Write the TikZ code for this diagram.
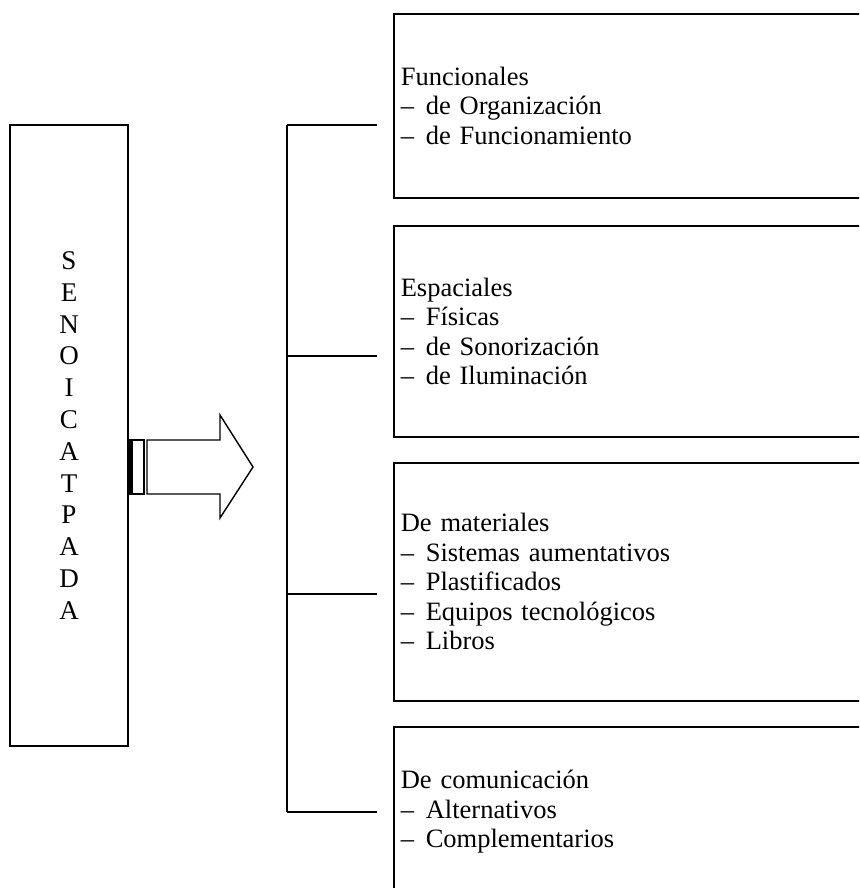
\documentclass[tikz,border=0pt]{standalone}
\usepackage{fontspec}
\setmainfont{Liberation Serif}
\usetikzlibrary{positioning}
\newcommand{\guion}{\makebox[25pt][l]{–}}
\tikzset{
  caja/.style={draw, line width=1.6pt, anchor=north west, text width=460pt,
    align=left, inner sep=7pt, font=\fontsize{26.5}{29.5}\selectfont},
  lado/.style={line width=1.6pt},
}
\begin{document}
\begin{tikzpicture}[x=1pt, y=-1pt]
  \useasboundingbox (0,0) rectangle (859,888);
  \clip (0,0) rectangle (859,888);
  \node[draw, line width=1.6pt, minimum width=118pt, minimum height=621pt, align=center,
        font=\fontsize{27}{31.8}\selectfont] (adapt) at (69,435.5)
        {S\\E\\N\\O\\I\\C\\A\\T\\P\\A\\D\\A};
  % flecha
  \draw[line width=1.4pt] (128,440) rectangle (144,494);
  \fill (128,440) rectangle (132.5,494);
  \draw[line width=1.4pt] (147,440) -- (220,440) -- (220,415) -- (253,467)
        -- (220,518) -- (220,494) -- (147,494) -- cycle;
  % cajas
  \node[caja, minimum height=184pt] (funcionales) at (393,13)
        {Funcionales\\\guion de Organización\\\guion de Funcionamiento};
  \node[caja, minimum height=211pt] (espaciales) at (393,225)
        {Espaciales\\\guion Físicas\\\guion de Sonorización\\\guion de Iluminación};
  \node[caja, minimum height=238pt] (materiales) at (393,462)
        {De materiales\\\guion Sistemas aumentativos\\\guion Plastificados\\\guion Equipos tecnológicos\\\guion Libros};
  \node[caja, minimum height=170pt] (comunicacion) at (393,726)
        {De comunicación\\\guion Alternativos\\\guion Complementarios};
  % llave
  \coordinate (lomo1) at (287,125);
  \coordinate (lomo2) at (287,356);
  \coordinate (lomo3) at (287,594);
  \coordinate (lomo4) at (287,812);
  \coordinate (fin1) at (377,125);
  \coordinate (fin2) at (377,356);
  \coordinate (fin3) at (377,594);
  \coordinate (fin4) at (377,812);
  \draw[lado] (lomo1) -- (lomo4);
  \draw[lado] (lomo1) -- (fin1);
  \draw[lado] (lomo2) -- (fin2);
  \draw[lado] (lomo3) -- (fin3);
  \draw[lado] (lomo4) -- (fin4);
\end{tikzpicture}
\end{document}
